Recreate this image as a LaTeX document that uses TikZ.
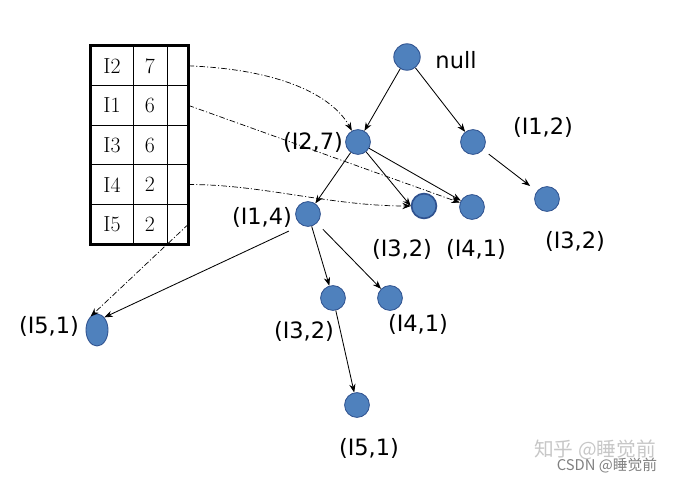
\documentclass[tikz,border=0pt]{standalone}
\usepackage{fontspec}
\newfontfamily\labelfont{DejaVu Sans}
\newfontfamily\cjkfont{Noto Sans CJK SC}
\usetikzlibrary{arrows.meta,shapes.geometric}
\definecolor{nodeblue}{RGB}{79,129,189}
\definecolor{nodeedge}{RGB}{47,82,143}

\begin{document}
\begin{tikzpicture}[x=0.025cm, y=-0.025cm,
    fpnode/.style={circle, draw=nodeedge, fill=nodeblue, line width=0.6pt, minimum size=0.62cm, inner sep=0pt},
    lbl/.style={font=\labelfont\fontsize{16}{18}\selectfont, inner sep=0pt},
    cell/.style={rectangle, draw, line width=0.6pt, minimum height=0.99cm, inner sep=0pt, font=\fontsize{15.5}{17}\selectfont},
    treearrow/.style={-{Stealth[length=6pt,width=4.5pt]}, line width=0.6pt},
    headerlink/.style={-{Stealth[length=6pt,width=4.5pt]}, line width=0.5pt, dash pattern=on 4pt off 1.5pt on 0.8pt off 1.5pt}]
    \useasboundingbox (0,0) rectangle (673,480);

    % header table
    \foreach \itm/\cnt [count=\i] in {I2/7,I1/6,I3/6,I4/2,I5/2} {
        \node (item-\itm) [cell, minimum width=1.05cm] at (112,{26.2+39.6*\i}) {\itm};
        \node (count-\itm) [cell, minimum width=0.85cm] at (150,{26.2+39.6*\i}) {\cnt};
        \node (ptr-\itm) [cell, minimum width=0.525cm] at (177.5,{26.2+39.6*\i}) {};
    }
    \draw[line width=2.2pt] (item-I2.north west) rectangle (ptr-I5.south east);

    % tree nodes
    \node (root) [fpnode, minimum size=0.66cm] at (407,57) {};
    \node (n27) [fpnode] at (358,142) {};
    \node (n12) [fpnode] at (473,142) {};
    \node (n32c) [fpnode] at (547,199) {};
    \node (n32a) [fpnode, line width=1.2pt] at (424,206) {};
    \node (n41a) [fpnode] at (472,207) {};
    \node (n14) [fpnode] at (308,214) {};
    \node (n51a) [ellipse, draw=nodeedge, fill=nodeblue, line width=0.6pt, minimum width=0.55cm, minimum height=0.8cm, inner sep=0pt] at (97,330) {};
    \node (n32b) [fpnode] at (333,298) {};
    \node (n41b) [fpnode] at (390,298) {};
    \node (n51b) [fpnode] at (357,405) {};

    % labels
    \node (t-root) [lbl] at (456,60) {null};
    \node (t27) [lbl] at (313,142) {(I2,7)};
    \node (t12) [lbl] at (543,127) {(I1,2)};
    \node (t32c) [lbl] at (575,241) {(I3,2)};
    \node (t32a) [lbl] at (402,249) {(I3,2)};
    \node (t41a) [lbl] at (476,249) {(I4,1)};
    \node (t14) [lbl] at (262,217) {(I1,4)};
    \node (t51a) [lbl] at (49,326) {(I5,1)};
    \node (t32b) [lbl] at (304,331) {(I3,2)};
    \node (t41b) [lbl] at (418,324) {(I4,1)};
    \node (t51b) [lbl] at (369,448) {(I5,1)};

    % tree edges
    \draw[treearrow] (root) -- (n27);
    \draw[treearrow] (root) -- (n12);
    \draw[treearrow, shorten <=5pt, shorten >=6pt] (n12) -- (n32c);
    \draw[treearrow] (n27) -- (n14);
    \draw[treearrow] (n27) -- (n32a.west);
    \draw[treearrow] (n27) -- (n41a);
    \draw[treearrow, shorten <=10pt] (n14.240) -- (n51a.60);
    \draw[treearrow] (n14) -- (n32b);
    \draw[treearrow, shorten <=6pt] (n14) -- (n41b);
    \draw[treearrow] (n32b) -- (n51b);

    % node links
    \draw[headerlink] (ptr-I2.east) .. controls (290,70) and (335,100) .. (n27);
    \draw[headerlink] (ptr-I1.east) -- (n41a);
    \draw[headerlink] (ptr-I4.east) .. controls (260,184) and (330,206) .. (n32a);
    \draw[headerlink] (ptr-I5.east) -- (n51a.115);

    % watermark
    \node (wm1) [font=\cjkfont\fontsize{14}{16}\selectfont, text=black!22] at (595,450) {知乎 @睡觉前};
    \node (wm2) [font=\cjkfont\fontsize{10.5}{12}\selectfont, text=black!50] at (607,466) {CSDN @睡觉前};
\end{tikzpicture}
\end{document}
